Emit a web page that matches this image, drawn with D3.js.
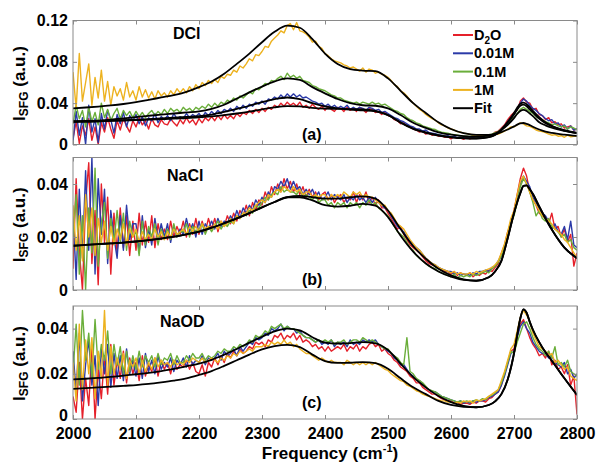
<!DOCTYPE html>
<html>
<head>
<meta charset="utf-8">
<script src="https://cdn.jsdelivr.net/npm/d3@7"></script>
<style>
  body { margin: 0; background: #fff; }
  text { font-family: "Liberation Sans", Arial, Helvetica, sans-serif; font-weight: bold; }
</style>
</head>
<body>
<div id="chart"></div>
<script>
// spectra values are stored in units of 1e-4 a.u.
var unit = 1e-4;
var freq = d3.range(2000, 2801, 5);

var seriesNames = ["D2O", "0.01M", "0.1M", "1M"];
var panelNames = ["DCl", "NaCl", "NaOD"];
var panelTags = ["(a)", "(b)", "(c)"];

var xTicks = [2000, 2100, 2200, 2300, 2400, 2500, 2600, 2700, 2800];
var xTickLabels = ["2000", "2100", "2200", "2300", "2400", "2500", "2600", "2700", "2800"];
var yTicksA = [0, 0.04, 0.08, 0.12];
var yTickLabelsA = ["0", "0.04", "0.08", "0.12"];
var yTicksBC = [0, 0.02, 0.04];
var yTickLabelsBC = ["0", "0.02", "0.04"];

// (a) DCl
var dclD2O = [60,220,10,180,90, 250,40,170,0,210, 120,260,150,60,230, 140,250,180,120,230, 170,260,190,230,150, 250,190,170,240,200, 190,250,210,180,240, 200,260,210,240,190, 250,210,260,230,270, 230,280,240,290,250, 280,250,300,270,310, 290,330,300,340,310, 350,320,360,340,380, 360,400,370,410,380, 400,370,410,360,380, 350,390,360,340,370, 330,370,340,320,360, 350,320,360,330,350, 320,360,340,310,350, 340,310,320,290,310, 280,270,240,230,200, 210,180,170,150,140, 120,130,100,110,90, 95,80,85,70,75, 55,75,60,65,50, 70,55,65,75,60, 80,70,95,90,120, 130,160,190,240,280, 310,330,420,450,410, 400,340,350,290,280, 240,260,210,220,190, 200,160,170,180,140, 150];
var dcl001 = [30,320,90,260,0, 380,120,250,20,300, 150,330,240,110,290, 200,310,170,280,230, 290,200,270,180,260, 230,300,210,270,240, 280,230,300,250,270, 250,300,260,290,270, 300,260,310,280,320, 290,330,300,340,320, 350,320,370,340,380, 350,390,370,410,390, 420,390,440,430,460, 440,480,450,490,460, 490,460,480,450,460, 440,420,410,390,400, 370,390,360,380,350, 370,350,380,340,360, 340,360,350,330,360, 350,330,340,310,320, 300,280,260,250,230, 220,200,180,170,150, 150,130,140,115,110, 105,95,90,80,85, 70,80,65,75,65, 60,70,65,60,70, 75,70,85,95,110, 120,150,180,220,260, 290,340,400,440,420, 380,350,330,300,280, 250,230,240,200,210, 170,190,150,180,140, 150];
var dcl01 = [200,380,250,330,170, 360,220,310,190,400, 260,340,230,300,350, 250,330,280,320,260, 320,270,310,260,300, 330,280,320,290,340, 300,350,320,340,310, 360,330,350,320,360, 340,370,350,390,360, 400,370,410,390,430, 410,450,430,470,450, 480,510,490,540,530, 560,590,580,620,610, 640,660,630,690,650, 670,640,660,620,610, 600,570,560,540,530, 520,500,480,470,450, 450,430,420,410,400, 410,390,410,400,390, 410,390,400,380,390, 370,350,330,320,300, 290,260,240,230,210, 200,180,170,160,150, 145,130,120,115,110, 100,95,90,85,80, 80,75,85,70,80, 85,80,95,100,115, 125,150,175,210,240, 260,300,340,360,340, 320,300,270,250,240, 220,210,190,200,180, 170,180,150,170,160, 140];
var dcl1 = [700,350,880,420,600, 780,380,650,450,720, 420,610,380,560,470, 540,430,600,460,520, 430,560,460,530,450, 510,440,520,470,500, 460,520,480,540,500, 540,500,560,520,580, 540,600,570,620,590, 630,600,660,640,680, 670,720,700,760,740, 780,830,810,870,860, 900,950,940,1000,1030, 1060,1100,1080,1150,1170, 1110,1180,1100,1090,1070, 1040,990,1000,950,930, 880,860,830,810,800, 790,770,760,740,750, 730,710,740,700,730, 720,690,700,680,670, 650,620,580,560,520, 500,470,430,400,370, 340,320,290,270,250, 235,210,190,180,160, 150,140,125,120,110, 105,100,90,95,85, 85,90,80,95,100, 100,115,130,150,170, 170,190,210,200,180, 175,160,140,130,125, 115,100,90,95,80, 85,70,90,75,80, 80];

// (b) NaCl
var naclD2O = [80,420,150,0,330, 480,100,300,20,400, 180,350,60,290,140, 310,160,280,130,260, 150,290,170,260,180, 280,160,250,190,230, 190,260,200,240,210, 260,200,250,210,270, 210,260,220,270,230, 270,220,260,240,280, 250,290,260,300,280, 320,280,330,300,340, 320,370,340,390,360, 400,370,420,380,410, 370,400,360,390,350, 380,350,370,340,360, 370,340,360,330,350, 360,330,350,340,370, 330,360,340,370,330, 350,320,340,310,310, 290,270,250,230,240, 210,190,170,160,150, 140,125,110,100,95, 90,85,75,70,70, 60,70,55,65,60, 55,65,50,60,55, 65,60,75,70,85, 100,140,170,220,250, 300,360,420,460,430, 370,340,320,290,280, 270,250,290,230,240, 200,230,180,210,90, 140];
var nacl001 = [300,40,380,120,450, 150,500,60,420,210, 380,100,300,200,120, 280,150,320,190,250, 250,140,280,160,230, 170,270,190,250,200, 250,180,240,200,230, 210,270,220,250,200, 260,210,250,230,260, 230,270,240,260,250, 280,260,300,270,310, 290,320,300,340,320, 350,330,370,350,390, 380,410,390,420,380, 410,380,390,360,380, 360,380,350,370,340, 350,370,340,360,350, 340,360,330,350,340, 360,340,350,330,350, 330,350,330,320,310, 300,280,260,240,230, 220,200,185,170,160, 150,135,120,110,100, 95,85,80,75,70, 70,60,65,55,60, 60,55,65,60,70, 70,75,70,85,90, 110,130,165,210,260, 290,350,400,430,410, 390,350,330,300,290, 280,260,230,250,220, 210,240,190,260,170, 160];
var nacl01 = [200,360,60,280,0, 310,140,460,90,250, 330,120,270,180,300, 180,290,150,260,200, 220,130,260,170,240, 200,250,170,230,190, 230,190,250,200,220, 220,250,200,240,220, 230,250,210,240,220, 240,260,230,250,240, 260,250,280,270,290, 280,300,290,320,310, 330,350,340,360,370, 360,390,370,380,370, 370,360,380,350,360, 350,340,360,330,340, 340,320,330,310,330, 320,330,310,330,320, 330,310,330,320,340, 320,330,310,300,290, 280,260,240,220,210, 200,180,160,150,130, 120,110,100,90,85, 80,70,65,60,55, 50,60,45,55,50, 55,50,60,55,60, 65,70,65,80,90, 105,130,160,200,250, 280,330,390,420,400, 370,330,280,300,270, 260,270,240,230,220, 200,210,180,190,160, 150];
var nacl1 = [320,150,280,110,360, 200,310,130,270,180, 260,150,240,170,230, 190,250,170,230,200, 230,180,220,190,210, 190,230,200,220,190, 220,200,230,210,220, 230,210,240,220,240, 220,250,230,240,230, 250,230,260,240,250, 270,250,280,270,290, 290,310,300,320,330, 340,330,360,350,370, 380,370,390,380,370, 390,370,380,360,370, 370,350,360,350,360, 360,340,360,350,360, 350,370,360,350,370, 360,370,350,360,350, 350,340,330,320,320, 300,290,270,250,240, 230,210,190,175,160, 150,135,120,110,100, 95,85,80,75,70, 65,70,60,65,60, 60,65,60,70,65, 70,75,80,85,95, 110,140,175,220,270, 300,360,410,430,400, 370,340,320,300,280, 270,260,250,230,220, 210,190,180,160,140, 120];

// (c) NaOD
var naodD2O = [100,30,250,0,180, 60,320,0,220,90, 280,110,330,150,260, 180,300,160,270,200, 250,170,280,190,240, 210,270,190,260,220, 250,200,260,220,240, 230,260,220,250,210, 200,240,190,250,230, 270,240,280,250,290, 270,300,280,310,290, 300,320,310,340,330, 340,320,350,340,370, 360,380,350,370,360, 380,350,370,340,350, 340,320,330,310,320, 300,320,300,310,320, 310,330,300,320,310, 330,300,320,310,330, 340,320,330,300,310, 290,280,260,250,230, 220,210,190,180,160, 160,140,130,120,110, 110,100,90,85,80, 80,70,75,65,70, 70,65,75,70,80, 80,75,90,95,110, 120,150,200,250,300, 310,370,420,440,400, 360,330,310,280,290, 270,300,240,260,220, 230,200,240,150,190, 20];
var naod001 = [300,120,380,80,240, 350,150,280,60,310, 200,330,140,290,180, 280,170,310,200,260, 190,270,180,290,210, 260,200,280,220,250, 230,270,210,260,240, 270,230,280,240,260, 250,280,240,270,260, 270,290,260,300,280, 290,310,280,320,300, 320,340,330,360,350, 360,380,370,400,390, 400,420,390,410,400, 400,380,390,370,360, 360,350,340,350,330, 340,330,350,320,340, 330,340,320,350,330, 340,330,350,340,350, 340,350,330,320,310, 300,290,270,260,240, 240,220,200,190,175, 170,155,140,130,120, 120,110,100,95,90, 85,80,75,80,70, 75,70,80,75,80, 80,85,95,100,110, 120,150,190,240,290, 300,360,410,430,400, 380,340,320,300,290, 290,270,280,250,240, 230,250,200,220,180, 200];
var naod01 = [200,420,150,480,260, 380,180,440,220,330, 260,390,200,330,240, 320,200,300,210,280, 220,300,230,280,250, 280,230,290,240,270, 260,290,240,280,250, 250,280,260,290,270, 270,290,260,280,270, 280,300,290,310,300, 300,320,310,330,320, 330,350,340,370,360, 370,390,380,410,400, 410,420,400,410,400, 400,390,380,370,360, 360,350,340,350,340, 350,340,350,330,340, 340,350,330,340,350, 350,340,360,350,340, 350,340,330,320,310, 310,290,280,270,250, 240,360,210,200,180, 170,160,145,130,125, 120,110,100,95,90, 85,80,75,80,75, 80,75,80,85,80, 90,85,100,105,115, 130,160,200,250,300, 290,340,380,420,430, 400,360,330,310,300, 280,300,270,320,240, 250,230,260,210,200, 190];
var naod1 = [250,80,420,130,350, 200,360,90,300,180, 480,150,320,200,270, 220,290,180,260,230, 270,200,260,210,250, 220,270,230,260,240, 250,230,260,240,250, 240,260,250,270,260, 250,270,250,260,270, 260,250,270,260,280, 270,290,280,300,290, 300,310,300,320,320, 320,330,320,340,330, 340,330,350,330,340, 320,330,310,300,290, 290,280,270,260,270, 260,250,260,250,250, 250,240,260,250,240, 250,240,250,240,250, 240,250,240,230,220, 215,200,190,180,170, 165,150,145,135,125, 120,110,105,100,95, 90,85,80,80,75, 75,70,75,70,80, 75,80,70,85,80, 85,90,100,110,120, 130,170,210,260,310, 330,390,450,480,460, 430,380,350,320,310, 300,280,290,250,260, 240,220,230,190,180, 170];

// fit curves, same units
var fitFreq = [2000,2020,2040,2060,2080,2100,2120,2140,2160,2180,2200,2220,2240,2260,2280,2300,2320,2340,2360,2380,2400,2420,2440,2460,2480,2500,2520,2540,2560,2580,2600,2620,2640,2660,2670,2680,2690,2700,2705,2710,2715,2720,2725,2730,2740,2750,2760,2780,2800];
var dclFitD2O = [220,222,224,228,232,236,240,245,250,256,262,272,285,300,318,340,360,372,368,355,348,345,342,340,325,285,210,150,112,85,68,60,58,72,95,145,220,305,355,395,405,390,360,325,265,215,182,140,112];
var dclFit001 = [220,222,225,230,235,240,245,252,260,268,275,290,315,345,375,410,440,455,440,400,370,350,338,330,320,285,215,155,118,90,72,62,60,72,92,140,210,290,340,375,385,370,340,310,250,205,175,135,110];
var dclFit01 = [225,228,232,240,252,265,278,290,300,310,320,345,385,445,505,560,610,640,625,555,495,440,400,380,375,350,285,210,160,118,95,82,76,88,105,140,190,255,295,325,335,325,300,275,215,185,162,132,112];
var dclFit1 = [350,358,367,378,392,410,432,455,478,510,555,610,685,780,880,990,1090,1150,1130,1020,880,780,730,715,710,640,520,400,305,215,150,110,93,93,100,120,145,175,192,205,208,200,188,172,145,125,112,95,83];
var naclFitA = [167,170,173,176,179,183,188,194,201,210,220,235,252,270,290,312,332,350,355,350,345,345,350,353,345,300,230,165,118,80,55,40,35,48,70,110,195,290,330,365,393,395,380,362,315,270,228,160,120];
var naclFitB = [167,170,173,176,179,183,188,194,201,210,220,235,252,270,290,312,332,350,350,338,320,315,318,325,318,275,205,145,100,70,50,38,35,48,70,110,195,290,330,365,393,395,380,362,315,270,228,160,120];
var naodFitA = [175,178,182,186,192,198,204,212,222,233,245,262,285,310,338,364,388,400,392,362,338,334,336,340,335,305,245,185,140,102,75,58,52,62,78,110,175,290,370,445,485,470,430,395,340,295,258,180,106];
var naodFitB = [133,137,140,143,147,150,155,162,170,180,195,212,235,260,285,308,322,328,318,285,256,248,249,252,247,222,180,140,110,80,62,54,52,62,78,110,175,290,370,445,485,470,430,395,340,295,258,180,106];

var colors = ["#e5202a", "#2b3aa8", "#6aae3a", "#edb21f"];
var fontFamily = '"Liberation Sans", Arial, Helvetica, sans-serif';
var frameColor = "#8a8a8a";

var width = 596;
var height = 468;

var svg = d3.select("#chart")
  .append("svg")
  .attr("width", width)
  .attr("height", height);

var x = d3.scaleLinear()
  .domain([2000, 2800])
  .range([73, 577]);

var panels = [
  {top: 20.5, bottom: 144.5, max: 0.12, ticks: yTicksA, labels: yTickLabelsA,
   data: [dclD2O, dcl001, dcl01, dcl1], fits: [dclFitD2O, dclFit001, dclFit01, dclFit1],
   nameX: 173, nameY: 39, tagY: 140},
  {top: 157.5, bottom: 290, max: 0.05, ticks: yTicksBC, labels: yTickLabelsBC,
   data: [naclD2O, nacl001, nacl01, nacl1], fits: [naclFitA, naclFitB],
   nameX: 167, nameY: 181, tagY: 285},
  {top: 306, bottom: 419, max: 0.05, ticks: yTicksBC, labels: yTickLabelsBC,
   data: [naodD2O, naod001, naod01, naod1], fits: [naodFitA, naodFitB],
   nameX: 160, nameY: 327, tagY: 408}
];

panels.forEach(function(p, k) {
  var y = d3.scaleLinear()
    .domain([0, p.max])
    .range([p.bottom, p.top]);

  var g = svg.append("g");

  g.append("clipPath")
    .attr("id", "clip" + k)
    .append("rect")
      .attr("x", x(2000))
      .attr("y", p.top)
      .attr("width", x(2800) - x(2000))
      .attr("height", p.bottom - p.top);

  var plot = g.append("g").attr("clip-path", "url(#clip" + k + ")");

  var dataLine = d3.line()
    .x(function(d, i) { return x(freq[i]); })
    .y(function(d) { return y(d * unit); });

  p.data.forEach(function(s, j) {
    plot.append("path")
      .datum(s)
      .attr("d", dataLine)
      .attr("fill", "none")
      .attr("stroke", colors[j])
      .attr("stroke-width", 1.4)
      .attr("stroke-linejoin", "round");
  });

  var fitLine = d3.line()
    .x(function(d, i) { return x(fitFreq[i]); })
    .y(function(d) { return y(d * unit); })
    .curve(d3.curveMonotoneX);

  p.fits.forEach(function(s) {
    plot.append("path")
      .datum(s)
      .attr("d", fitLine)
      .attr("fill", "none")
      .attr("stroke", "#000")
      .attr("stroke-width", 1.8);
  });

  // axes, ticks pointing inward
  var bottom = g.append("g")
    .attr("transform", "translate(0," + p.bottom + ")")
    .call(d3.axisBottom(x).tickValues(xTicks).tickSize(-4).tickPadding(9)
      .tickFormat(function(d, i) { return k === 2 ? xTickLabels[i] : ""; }));
  var top = g.append("g")
    .attr("transform", "translate(0," + p.top + ")")
    .call(d3.axisTop(x).tickValues(xTicks).tickSize(-4).tickFormat(""));
  var left = g.append("g")
    .attr("transform", "translate(" + x(2000) + ",0)")
    .call(d3.axisLeft(y).tickValues(p.ticks).tickSize(-4).tickPadding(5)
      .tickFormat(function(d, i) { return p.labels[i]; }));
  var right = g.append("g")
    .attr("transform", "translate(" + x(2800) + ",0)")
    .call(d3.axisRight(y).tickValues(p.ticks).tickSize(-4).tickFormat(""));

  [bottom, top, left, right].forEach(function(a) {
    a.select(".domain").remove();
    a.attr("font-size", 16).attr("font-family", fontFamily).attr("font-weight", "bold");
    a.selectAll("line").attr("stroke", frameColor);
    a.selectAll("text").attr("fill", "#000");
  });

  // lift the lowest "0" of the bottom panel a little off the x labels
  if (k === 2) {
    left.selectAll("text").filter(function(d) { return d === 0; }).attr("dy", "0.12em");
  }

  g.append("rect")
    .attr("x", x(2000))
    .attr("y", p.top)
    .attr("width", x(2800) - x(2000))
    .attr("height", p.bottom - p.top)
    .attr("fill", "none")
    .attr("stroke", frameColor)
    .attr("stroke-width", 1);

  g.append("text")
    .attr("x", p.nameX)
    .attr("y", p.nameY)
    .attr("font-size", 16)
    .text(panelNames[k]);

  g.append("text")
    .attr("x", 302)
    .attr("y", p.tagY)
    .attr("font-size", 16)
    .text(panelTags[k]);

  var ylab = g.append("text")
    .attr("transform", "translate(25," + ((p.top + p.bottom) / 2 + 1) + ") rotate(-90)")
    .attr("text-anchor", "middle")
    .attr("font-size", 17);
  ylab.append("tspan").text("I");
  ylab.append("tspan").attr("font-size", 12).attr("dy", 3).text("SFG");
  ylab.append("tspan").attr("dy", -3).text(" (a.u.)");
});

// legend in panel (a)
var legendNames = seriesNames.concat(["Fit"]);
var legendColors = colors.concat(["#000"]);
var legend = svg.append("g");
legendNames.forEach(function(name, i) {
  var ly = 35 + i * 18.3;
  legend.append("line")
    .attr("x1", 453).attr("x2", 473)
    .attr("y1", ly).attr("y2", ly)
    .attr("stroke", legendColors[i])
    .attr("stroke-width", 2);
  var t = legend.append("text")
    .attr("x", 474)
    .attr("y", ly + 5)
    .attr("font-size", 14.5);
  if (name === "D2O") {
    t.append("tspan").text("D");
    t.append("tspan").attr("font-size", 10).attr("dy", 4).text("2");
    t.append("tspan").attr("dy", -4).text("O");
  } else {
    t.text(name);
  }
});

// x axis title
var xt = svg.append("text")
  .attr("x", 330)
  .attr("y", 459)
  .attr("text-anchor", "middle")
  .attr("font-size", 17);
xt.append("tspan").text("Frequency (cm");
xt.append("tspan").attr("font-size", 11).attr("dy", -7).text("-1");
xt.append("tspan").attr("dy", 7).text(")");
</script>
</body>
</html>
